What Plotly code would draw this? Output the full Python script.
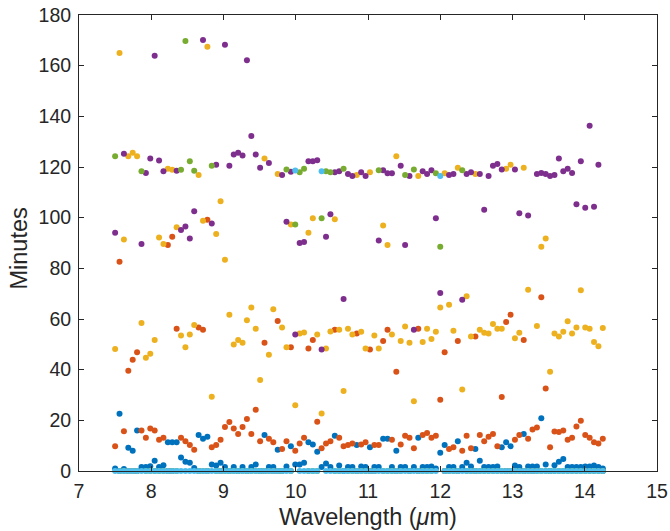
import numpy as np
import plotly.graph_objects as go

# Wavelength grid (µm): 112 regularly spaced samples from 7.5 to 14.25
wavelength = np.linspace(7.5, 14.25, 112)

series_blue = [1.0, 22.6, 0.8, 9.2, 8.0, 16.0, 1.6, 1.6, 1.9, 4.0,
               1.6, 2.3, 11.3, 11.3, 11.3, 5.3, 3.7, 3.3, 1.2, 14.2,
               12.7, 13.5, 2.6, 2.2, 3.3, 1.6, 0, 1.6, 0, 1.6,
               0, 1.6, 2.6, 0, 14.2, 1.6, 1.6, 8.4, 0, 1.8,
               9.8, 2.6, 2.6, 3.3, 11.3, 10.5, 7.6, 1.6, 3.0, 1.6,
               13.9, 2.2, 0, 1.6, 1.6, 10.3, 1.8, 1.6, 9.4, 1.6,
               1.6, 12.7, 12.7, 1.6, 8.0, 1.6, 1.6, 0, 1.6, 13.1,
               1.6, 1.6, 1.8, 1.0, 7.2, 10.3, 1.6, 1.6, 11.7, 1.6,
               3.3, 1.8, 8.7, 4.0, 1.6, 1.6, 1.6, 1.8, 9.4, 11.3,
               9.8, 2.2, 1.6, 14.6, 1.8, 1.8, 1.8, 20.8, 2.6, 0,
               2.3, 3.7, 4.7, 1.6, 1.6, 1.6, 1.6, 1.8, 1.8, 2.2,
               1.6, 1.0]

series_orange = [9.8, 82.6, 15.7, 39.6, 43.9, 46.9, 16.0, 13.1, 16.8, 16.0,
                 12.3, 13.1, 89.2, 92.5, 56.2, 13.1, 11.7, 10.3, 8.4, 56.6,
                 55.8, 99.2, 9.4, 10.3, 12.3, 17.4, 19.3, 16.8, 14.6, 17.4,
                 20.5, 14.6, 24.2, 11.7, 50.6, 12.7, 11.3, 59.2, 8.7, 11.7,
                 48.8, 8.0, 10.9, 13.1, 48.4, 51.7, 19.4, 9.0, 10.9, 11.7,
                 55.8, 13.1, 9.8, 10.3, 10.9, 54.3, 10.5, 11.3, 48.0, 10.3,
                 10.3, 51.3, 55.8, 12.3, 39.2, 10.5, 13.9, 13.1, 9.0, 56.2,
                 14.2, 15.0, 13.1, 13.9, 28.1, 46.9, 8.7, 9.4, 51.3, 8.0,
                 13.9, 9.0, 53.1, 14.2, 11.7, 13.5, 14.6, 9.8, 29.2, 58.8,
                 61.7, 12.3, 14.2, 51.7, 12.7, 16.4, 17.2, 68.6, 32.6, 9.4,
                 15.6, 15.4, 16.0, 12.3, 13.1, 17.6, 19.8, 14.2, 13.1, 11.3,
                 10.9, 12.7]

series_yellow = [48.2, 165.0, 91.4, 124.2, 125.6, 124.2, 58.4, 44.7, 46.3, 51.7,
                 92.2, 89.6, 119.3, 118.9, 96.2, 53.5, 48.8, 53.9, 57.6, 116.8,
                 98.8, 167.5, 29.3, 93.6, 106.5, 83.4, 61.7, 49.9, 51.7, 50.6,
                 59.5, 64.5, 56.2, 35.9, 123.4, 45.9, 63.8, 117.2, 56.6, 48.8,
                 97.3, 26.0, 54.3, 54.7, 94.0, 99.8, 53.9, 22.7, 48.4, 55.1,
                 99.4, 55.8, 31.6, 56.2, 53.9, 116.8, 55.0, 48.4, 117.9, 53.5,
                 48.4, 96.9, 89.2, 53.9, 124.2, 51.3, 57.0, 50.6, 27.5, 116.4,
                 50.9, 56.2, 52.1, 55.0, 64.5, 117.5, 65.6, 55.4, 119.7, 32.2,
                 69.0, 53.1, 117.2, 55.8, 54.6, 54.3, 58.0, 56.2, 56.2, 119.3,
                 120.9, 52.4, 54.6, 119.7, 71.5, 0, 57.2, 88.5, 91.8, 39.2,
                 54.3, 53.1, 55.0, 59.1, 54.3, 56.6, 71.3, 56.6, 56.2, 50.9,
                 49.2, 56.4]

series_purple = [94.0, 0, 125.2, 0, 0, 0, 89.6, 117.6, 123.4, 163.9,
                 122.6, 118.3, 0, 0, 118.5, 95.1, 96.5, 91.8, 102.5, 0,
                 170.1, 0, 97.7, 120.9, 0, 168.3, 120.5, 124.9, 125.6, 124.5,
                 162.1, 132.2, 124.9, 119.7, 0, 121.6, 0, 0, 116.8, 98.4,
                 118.1, 53.9, 90.0, 90.4, 122.3, 122.3, 122.7, 48.0, 92.5, 101.3,
                 117.9, 118.3, 67.9, 117.2, 116.4, 0, 117.9, 116.4, 0, 0,
                 91.0, 118.7, 117.5, 117.5, 0, 120.5, 89.2, 116.4, 55.8, 0,
                 118.3, 117.2, 118.7, 99.8, 70.3, 0, 116.8, 117.2, 0, 67.6,
                 117.2, 117.9, 0, 117.2, 103.1, 116.4, 120.5, 121.2, 119.0, 0,
                 0, 119.0, 101.7, 0, 100.9, 0, 117.2, 117.6, 117.2, 116.4,
                 116.8, 123.4, 118.3, 119.3, 117.6, 105.3, 122.3, 103.9, 136.3, 104.3,
                 120.9, 0]

series_green = [124.2, 0, 0, 0, 0, 0, 118.3, 0, 0, 0,
                0, 0, 0, 0, 0, 118.9, 169.7, 122.3, 118.5, 0,
                0, 0, 120.5, 0, 0, 0, 0, 0, 0, 0,
                0, 0, 0, 0, 0, 0, 0, 0, 0, 119.0,
                0, 97.3, 117.9, 119.3, 0, 0, 0, 99.8, 118.3, 117.9,
                0, 0, 119.3, 0, 0, 0, 0, 0, 0, 0,
                118.7, 0, 0, 0, 0, 0, 116.8, 0, 119.0, 0,
                0, 0, 0, 117.5, 88.5, 0, 0, 0, 0, 118.7,
                0, 0, 0, 0, 0, 0, 0, 0, 0, 0,
                0, 0, 0, 0, 0, 0, 0, 0, 0, 0,
                0, 0, 0, 0, 0, 0, 0, 0, 0, 0,
                0, 0]

series_lightblue = [0, 0, 0, 0, 0, 0, 0, 0, 0, 0,
                    0, 0, 0, 0, 0, 0, 0, 0, 0, 0,
                    0, 0, 0, 0, 0, 0, 0, 0, 0, 0,
                    0, 0, 0, 0, 0, 0, 0, 0, 0, 0,
                    0, 118.6, 0, 0, 0, 0, 0, 118.3, 0, 0,
                    0, 0, 0, 0, 0, 0, 0, 0, 0, 0,
                    0, 0, 0, 0, 0, 0, 0, 0, 0, 0,
                    0, 0, 0, 0, 116.4, 0, 0, 0, 0, 0,
                    0, 0, 0, 0, 0, 0, 0, 0, 0, 0,
                    0, 0, 0, 0, 0, 0, 0, 0, 0, 0,
                    0, 0, 0, 0, 0, 0, 0, 0, 0, 0,
                    0, 0]

x_ticks = [7, 8, 9, 10, 11, 12, 13, 14, 15]
y_ticks = [0, 20, 40, 60, 80, 100, 120, 140, 160, 180]
x_title = "Wavelength (<i>μ</i>m)"
y_title = "Minutes"

colors = ["#0072BD", "#D95319", "#EDB120", "#7E2F8E", "#77AC30", "#4DBEEE"]
all_series = [series_blue, series_orange, series_yellow,
              series_purple, series_green, series_lightblue]

fig = go.Figure()
for vals, col in zip(all_series, colors):
    fig.add_trace(go.Scatter(
        x=wavelength, y=vals, mode="markers",
        marker=dict(color=col, size=6, line=dict(width=0)),
        cliponaxis=False, showlegend=False, hoverinfo="x+y"))

axis_col = "#262626"
font_family = "Liberation Sans, Arial, Helvetica, sans-serif"
common = dict(showline=True, linecolor=axis_col, linewidth=1, mirror="ticks",
              ticks="inside", ticklen=5, tickcolor=axis_col, tickwidth=1,
              showgrid=False, zeroline=False, automargin=False,
              ticklabelstandoff=3,
              tickfont=dict(family=font_family, size=19.5, color=axis_col))

# plot area: x 79..657 px, y 15..471 px
fig.update_layout(
    width=670, height=531,
    margin=dict(l=79, r=13, t=15, b=60),
    paper_bgcolor="white", plot_bgcolor="white",
    font=dict(family=font_family, color=axis_col),
    xaxis=dict(range=[7, 15], tickvals=x_ticks, **common),
    yaxis=dict(range=[0, 180], tickvals=y_ticks, **common),
    annotations=[
        dict(text=x_title, xref="paper", yref="paper", x=0.5,
             y=-(517 - 471) / 456, xanchor="center", yanchor="middle",
             showarrow=False, font=dict(size=23.5, color=axis_col)),
        dict(text=y_title, xref="paper", yref="paper",
             x=-(79 - 18.5) / 578, y=(471 - 249) / 456, textangle=-90,
             xanchor="center", yanchor="middle",
             showarrow=False, font=dict(size=23.5, color=axis_col)),
    ],
)

fig.write_html("out.html",
               config={"displayModeBar": False},
               post_script="document.body.style.margin='0';"
                           "document.body.style.overflow='hidden';")
